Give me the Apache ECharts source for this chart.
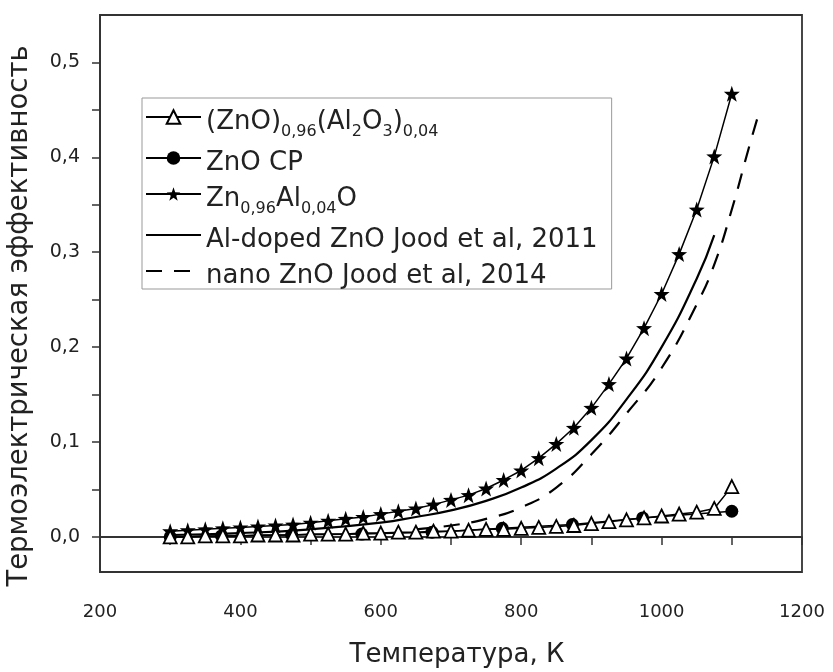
<!DOCTYPE html>
<html>
<head>
<meta charset="utf-8">
<script src="https://cdn.jsdelivr.net/npm/echarts@6/dist/echarts.min.js"></script>
<style>
html,body{margin:0;padding:0;background:#fff;}
#chart{width:833px;height:672px;}
</style>
</head>
<body>
<div id="chart"></div>
<script>
// ---- Data ----
var seriesNames = [
  '(ZnO)0,96(Al2O3)0,04',
  'ZnO CP',
  'Zn0,96Al0,04O',
  'Al-doped ZnO Jood et al, 2011',
  'nano ZnO Jood et al, 2014'
];
var richNames = [
  '{n|(ZnO)}{s|0,96}{n|(Al}{s|2}{n|O}{s|3}{n|)}{s|0,04}',
  '{n|ZnO CP}',
  '{n|Zn}{s|0,96}{n|Al}{s|0,04}{n|O}',
  '{n|Al-doped ZnO Jood et al, 2011}',
  '{n|nano ZnO Jood et al, 2014}'
];

var tempStep25 = [300,325,350,375,400,425,450,475,500,525,550,575,600,625,650,675,700,
                  725,750,775,800,825,850,875,900,925,950,975,1000,1025,1050,1075,1100];
var triangleValues = [0.000,0.000,0.001,0.001,0.001,0.002,0.002,0.002,0.003,0.003,0.003,0.004,
                      0.004,0.005,0.005,0.006,0.006,0.007,0.008,0.008,0.009,0.010,0.011,0.012,
                      0.014,0.016,0.018,0.020,0.022,0.024,0.026,0.030,0.053];
var starValues = [0.006,0.007,0.008,0.009,0.010,0.011,0.012,0.013,0.015,0.017,0.019,0.021,
                  0.024,0.027,0.030,0.034,0.039,0.044,0.051,0.060,0.070,0.083,0.098,0.115,
                  0.136,0.161,0.188,0.220,0.256,0.298,0.345,0.401,0.467];

var circleTemps = [300,373,473,573,673,773,873,973,1100];
var circleValues = [0.000,0.001,0.002,0.003,0.005,0.009,0.013,0.020,0.027];

var jood2011Temps = [300,400,500,600,650,700,750,800,850,900,950,1000,1050,1075];
var jood2011Values = [0.002,0.004,0.008,0.015,0.021,0.028,0.038,0.052,0.072,0.102,0.145,0.200,0.272,0.318];

var jood2014Temps = [650,700,750,800,850,900,950,1000,1050,1075,1100,1125,1140];
var jood2014Values = [0.008,0.012,0.019,0.031,0.052,0.087,0.130,0.178,0.245,0.287,0.345,0.412,0.450];

var xTickLabels = [200,400,600,800,1000,1200];
var yTickLabels = [0,0.1,0.2,0.3,0.4,0.5];
var yMinorTicks = [0,0.05,0.1,0.15,0.2,0.25,0.3,0.35,0.4,0.45,0.5];

function pairs(xs, ys){ return xs.map(function(x,i){ return [x, ys[i]]; }); }

var starPath = 'path://M0,-10 L2.35,-3.24 L9.51,-3.09 L3.8,1.24 L5.88,8.09 L0,4 L-5.88,8.09 L-3.8,1.24 L-9.51,-3.09 L-2.35,-3.24 Z';
var FONT = 'DejaVu Sans';

var chart = echarts.init(document.getElementById('chart'), null, {renderer:'canvas'});
var option = {
  animation: false,
  backgroundColor: '#ffffff',
  grid: {left: 100, right: 31, top: 15, bottom: 100, show: true, borderColor: '#333', borderWidth: 1.8, backgroundColor: 'transparent'},
  xAxis: {
    type: 'value', min: 200, max: 1200, interval: 100,
    axisLine: {show: true, lineStyle: {color: '#333', width: 1.8}},
    axisTick: {show: true, inside: false, length: 8, lineStyle: {color: '#333', width: 1.5}},
    axisLabel: {customValues: xTickLabels, margin: 31, fontSize: 18, fontFamily: FONT, color: '#222',
      formatter: function(v){ return String(v); }},
    splitLine: {show: false}
  },
  yAxis: {
    type: 'value', min: -0.037, max: 0.55,
    axisLine: {show: true, lineStyle: {color: '#333', width: 1.8}},
    axisTick: {show: true, inside: false, length: 8, customValues: yMinorTicks, lineStyle: {color: '#333', width: 1.5}},
    axisLabel: {customValues: yTickLabels, margin: 20, fontSize: 19, fontFamily: FONT, color: '#222',
      formatter: function(v){ return v.toFixed(1).replace('.', ','); }},
    splitLine: {show: false}
  },
  legend: {
    orient: 'vertical', left: 142, top: 98,
    padding: [0, 14, 0, 3],
    itemGap: -1, itemWidth: 55, itemHeight: 17,
    borderColor: '#999', borderWidth: 1, backgroundColor: '#fff',
    data: [
      {name: seriesNames[0]},
      {name: seriesNames[1]},
      {name: seriesNames[2]},
      {name: seriesNames[3], itemStyle: {opacity: 0}},
      {name: seriesNames[4], itemStyle: {opacity: 0}}
    ],
    formatter: function(name){ return richNames[seriesNames.indexOf(name)]; },
    textStyle: {
      color: '#222', height: 38,
      rich: {
        n: {fontSize: 26, fontFamily: FONT, lineHeight: 24, padding: [11, 0, 0, 0], verticalAlign: 'top', color: '#222'},
        s: {fontSize: 16, fontFamily: FONT, lineHeight: 12, padding: [26, 0, 0, 0], verticalAlign: 'top', color: '#222'}
      }
    }
  },
  graphic: [
    {type: 'text', x: 457, y: 655, style: {text: 'Температура, К', fontSize: 26, fontFamily: FONT, fill: '#222', textAlign: 'center', textVerticalAlign: 'middle'}},
    {type: 'text', x: 20, y: 316, rotation: Math.PI/2, style: {text: 'Термоэлектрическая эффективность', fontSize: 27.5, fontFamily: FONT, fill: '#222', textAlign: 'center', textVerticalAlign: 'middle'}}
  ],
  series: [
    {
      name: seriesNames[3], type: 'line', data: pairs(jood2011Temps, jood2011Values),
      smooth: true, symbol: 'none', lineStyle: {color: '#000', width: 2.2}, itemStyle: {color: '#000'}, z: 2
    },
    {
      name: seriesNames[4], type: 'line', data: pairs(jood2014Temps, jood2014Values),
      smooth: true, symbol: 'none', lineStyle: {color: '#000', width: 2.2, type: [16, 12]}, itemStyle: {color: '#000'}, z: 2
    },
    {
      name: seriesNames[2], type: 'line', data: pairs(tempStep25, starValues),
      symbol: starPath, symbolSize: 16, lineStyle: {color: '#000', width: 1.5},
      itemStyle: {color: '#000', borderWidth: 0}, z: 3
    },
    {
      name: seriesNames[1], type: 'line', data: pairs(circleTemps, circleValues),
      symbol: 'circle', symbolSize: 13, lineStyle: {color: '#000', width: 1.5},
      itemStyle: {color: '#000', borderWidth: 0}, z: 4
    },
    {
      name: seriesNames[0], type: 'line', data: pairs(tempStep25, triangleValues),
      symbol: 'triangle', symbolSize: 13, lineStyle: {color: '#000', width: 1.5},
      itemStyle: {color: '#fff', borderColor: '#000', borderWidth: 1.8}, z: 5
    }
  ]
};
chart.setOption(option);
</script>
</body>
</html>
